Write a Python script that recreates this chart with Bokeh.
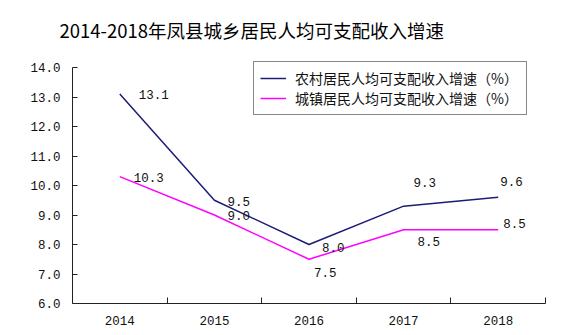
from bokeh.plotting import figure
from bokeh.models import ColumnDataSource, Range1d, FixedTicker, Legend, LegendItem, Title, CustomJSTickFormatter
from bokeh.core.properties import value
from bokeh.embed import file_html
from bokeh.resources import INLINE

years = ["2014", "2015", "2016", "2017", "2018"]
rural = [13.1, 9.5, 8.0, 9.3, 9.6]
urban = [10.3, 9.0, 7.5, 8.5, 8.5]
rural_name = "农村居民人均可支配收入增速（%）"
urban_name = "城镇居民人均可支配收入增速（%）"
title_text = "2014-2018年凤县城乡居民人均可支配收入增速"
y_ticks = [6, 7, 8, 9, 10, 11, 12, 13, 14]

# label placement (screen px offsets), styling only
rural_dx = [19, 13, 13, 10, 2]
rural_dy = [0, 1, 3, -24, -16]
urban_dx = [14, 13, 5, 14, 5]
urban_dy = [1, 0, 13, 12, -6]

xs = [i + 0.5 for i in range(len(years))]
y_lo, y_hi = y_ticks[0], y_ticks[-1]

p = figure(width=572, height=335, output_backend="svg", toolbar_location=None,
           x_range=Range1d(0, len(years)), y_range=Range1d(y_lo, y_hi + 7 / 29.5),
           min_border_left=72, min_border_right=27, min_border_top=60, min_border_bottom=32)
p.outline_line_color = None
p.xgrid.visible = False
p.ygrid.visible = False
p.background_fill_color = "white"
p.border_fill_color = "white"

p.title = Title(text=title_text, text_font="Noto Sans CJK SC", text_font_size="18.5px",
                text_font_style="normal", align="left", offset=-13, text_color="#000000",
                vertical_align="top")
p.title.standoff = 31

src_r = ColumnDataSource(dict(x=xs, y=rural, t=[f"{v:.1f}" for v in rural], dx=rural_dx, dy=rural_dy))
src_u = ColumnDataSource(dict(x=xs, y=urban, t=[f"{v:.1f}" for v in urban], dx=urban_dx, dy=urban_dy))

lr = p.line("x", "y", source=src_r, line_color="#1C1C78", line_width=1.5)
lu = p.line("x", "y", source=src_u, line_color="#FF00FF", line_width=1.5)

for s in (src_r, src_u):
    p.text("x", "y", text="t", x_offset="dx", y_offset="dy", source=s,
           text_font=value("Liberation Mono"), text_font_size="12.5px",
           text_align="left", text_baseline="middle", text_color="#111111")

# axes
p.xaxis.ticker = FixedTicker(ticks=xs, minor_ticks=list(range(1, len(years) + 1)))
p.xaxis.formatter = CustomJSTickFormatter(args=dict(labels=years), code="return labels[Math.floor(tick)];")
p.xaxis.major_tick_in = 0
p.xaxis.major_tick_out = 0
p.xaxis.minor_tick_in = 6
p.xaxis.minor_tick_out = 0
p.xaxis.major_label_standoff = 12
p.yaxis.ticker = FixedTicker(ticks=y_ticks)
p.yaxis.bounds = (y_lo, y_hi)
p.yaxis.formatter = CustomJSTickFormatter(code="return tick.toFixed(1);")
p.yaxis.major_tick_in = 5
p.yaxis.major_tick_out = 0
p.yaxis.minor_tick_in = 0
p.yaxis.minor_tick_out = 0
p.yaxis.major_label_standoff = 12
for ax in (p.xaxis, p.yaxis):
    ax.axis_line_color = "#222222"
    ax.major_tick_line_color = "#222222"
    ax.minor_tick_line_color = "#222222"
    ax.major_label_text_font = "Liberation Mono"
    ax.major_label_text_font_size = "12.5px"
    ax.major_label_text_color = "#111111"

legend = Legend(items=[LegendItem(label=rural_name, renderers=[lr]),
                       LegendItem(label=urban_name, renderers=[lu])],
                location=(181, 188), padding=6, spacing=0, glyph_width=26, glyph_height=16,
                label_height=16, label_standoff=9, label_width=225, margin=0,
                label_text_font="Noto Sans CJK SC", label_text_font_size="14px",
                label_text_color="#111111", border_line_color="#111111", border_line_width=1,
                background_fill_alpha=1)
p.add_layout(legend, "center")

open("out.html", "w").write(file_html(p, INLINE))
